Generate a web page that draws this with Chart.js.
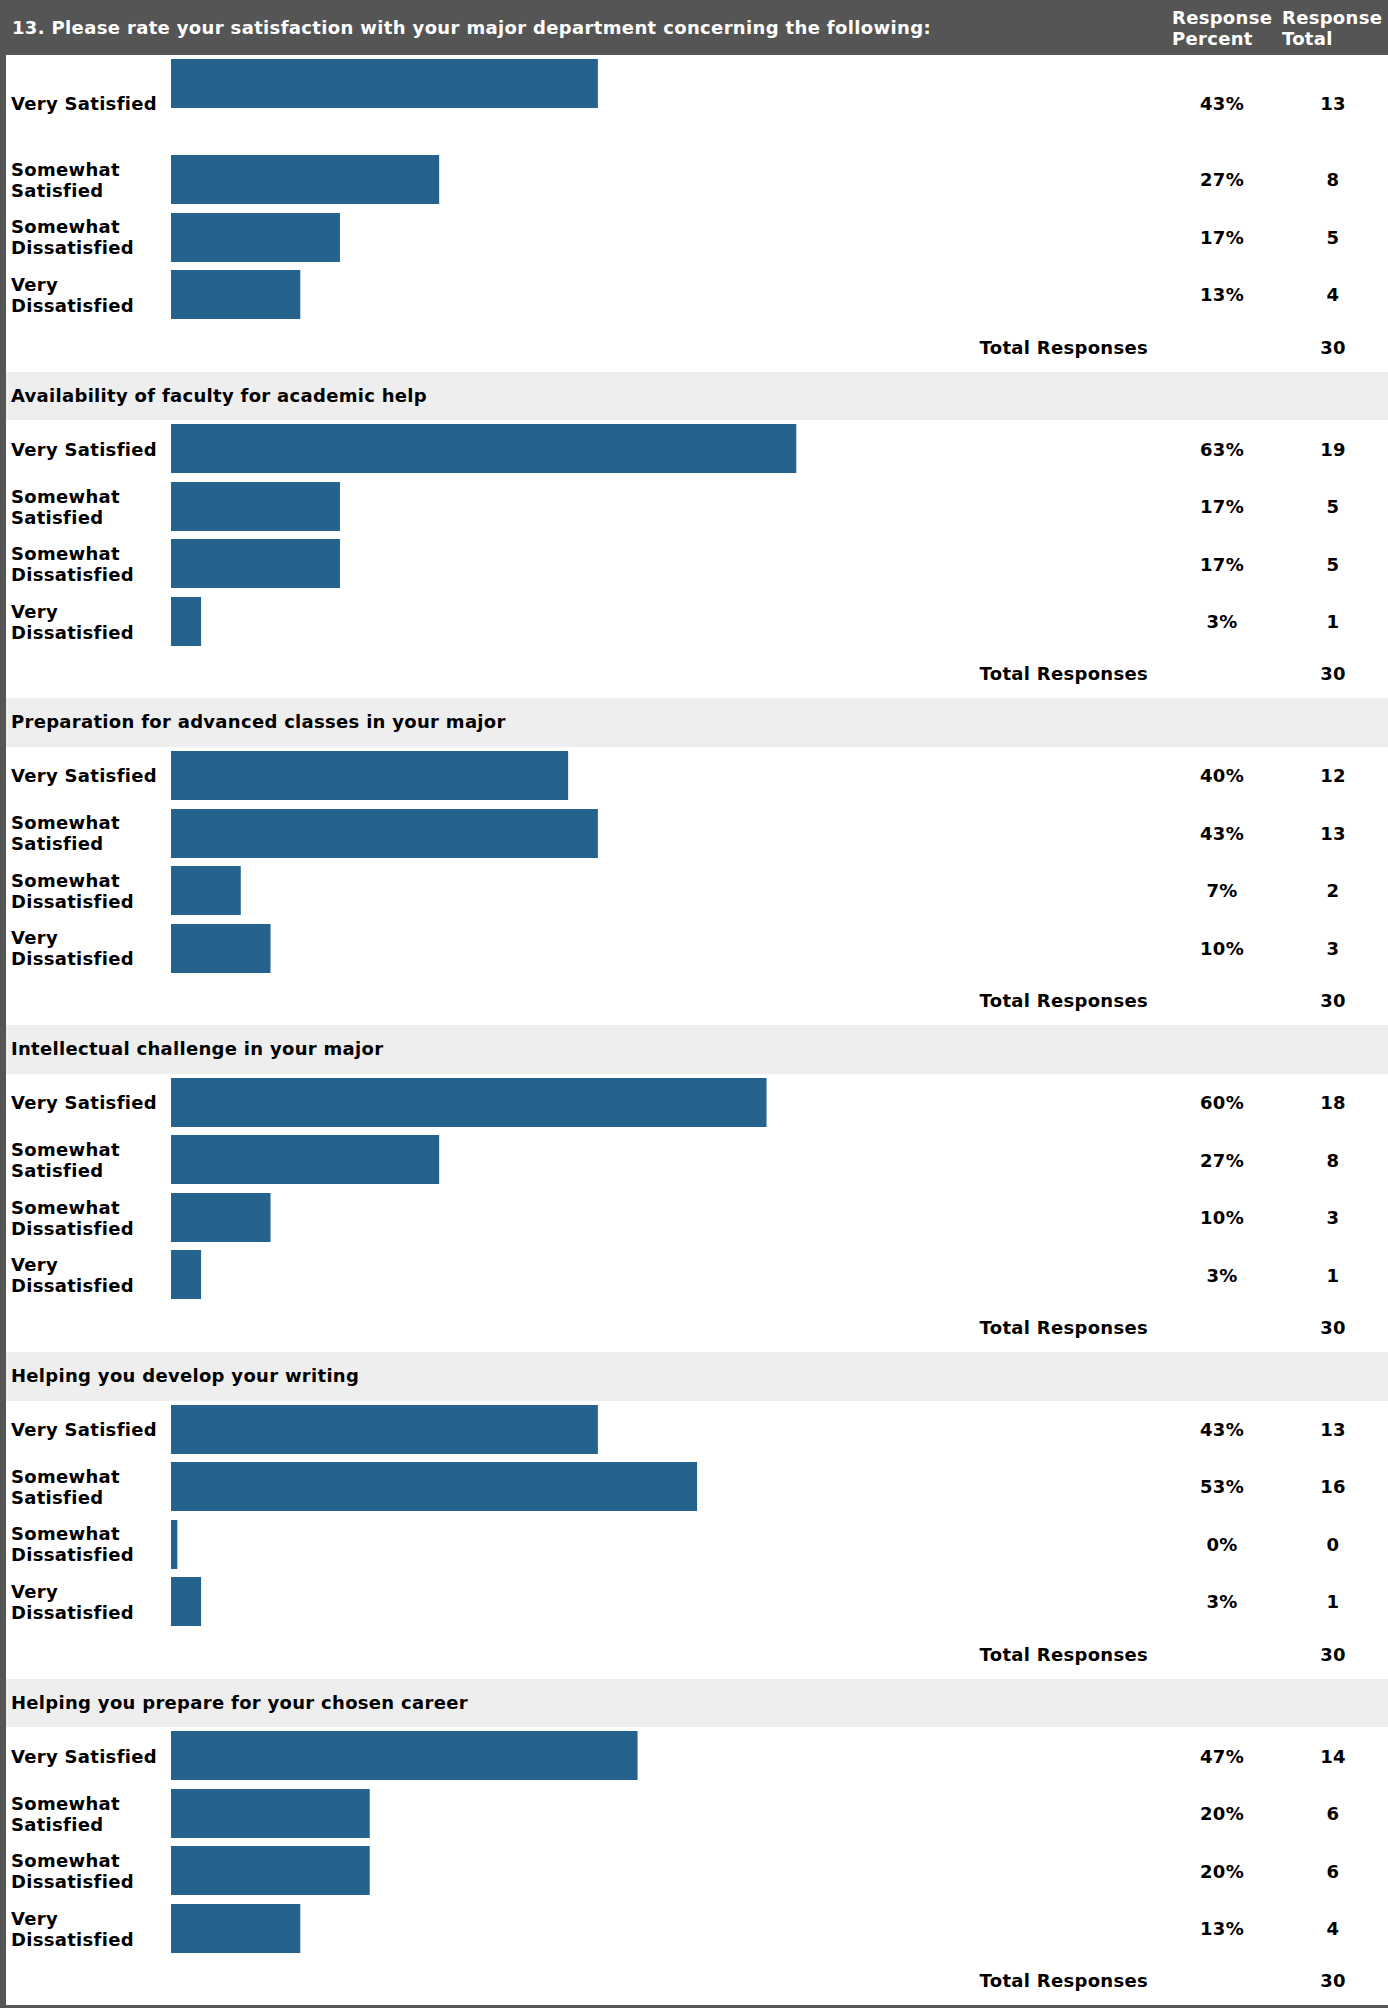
<!DOCTYPE html>
<html>
<head>
<meta charset="utf-8">
<title>Satisfaction with major department</title>
<script src="https://cdn.jsdelivr.net/npm/chart.js@4"></script>
<style>
  html, body { margin: 0; padding: 0; background: #fff; }
  body { font: bold 18px "DejaVu Sans", Verdana, sans-serif; color: #000; letter-spacing: 0.3px; }
  #sheet { width: 1382px; border-left: 6px solid #555; border-bottom: 3px solid #555; }
  .head { position: relative; height: 55px; background: #555; color: #fff; }
  .head .q { position: absolute; left: 6px; top: 0; height: 55px; line-height: 55px; letter-spacing: 0.35px; }
  .head .col { position: absolute; top: 7px; line-height: 21px; }
  .band { height: 48.75px; line-height: 48.75px; background: #eee; padding-left: 5px; }
  .row { position: relative; }
  .row .lbl { position: absolute; left: 5px; top: 0; bottom: 0; display: flex; align-items: center; line-height: 21px; }
  .row .bar { position: absolute; left: 165px; top: 4px; width: 992px; height: 49px; }
  .row .pct, .row .cnt { position: absolute; top: 0; bottom: 0; display: flex; align-items: center; justify-content: center; }
  .row .pct { left: 1166px; width: 100px; }
  .row .cnt { left: 1276px; width: 102px; }
  .tot { position: relative; height: 48px; }
  .tot .name { position: absolute; right: 240px; top: 0; line-height: 48px; }
  .tot .cnt { position: absolute; left: 1276px; width: 102px; top: 0; line-height: 48px; text-align: center; }
</style>
</head>
<body>
<div id="sheet">
  <div class="head">
    <div class="q">13. Please rate your satisfaction with your major department concerning the following:</div>
    <div class="col" style="left:1166px">Response<br>Percent</div>
    <div class="col" style="left:1276px">Response<br>Total</div>
  </div>
</div>
<script>
const groupTitles = [
  '',
  'Availability of faculty for academic help',
  'Preparation for advanced classes in your major',
  'Intellectual challenge in your major',
  'Helping you develop your writing',
  'Helping you prepare for your chosen career'
];
const ratings = [['Very Satisfied'], ['Somewhat', 'Satisfied'], ['Somewhat', 'Dissatisfied'], ['Very', 'Dissatisfied']];
const percents = [
  [43, 27, 17, 13],
  [63, 17, 17, 3],
  [40, 43, 7, 10],
  [60, 27, 10, 3],
  [43, 53, 0, 3],
  [47, 20, 20, 13]
];
const counts = [
  [13, 8, 5, 4],
  [19, 5, 5, 1],
  [12, 13, 2, 3],
  [18, 8, 3, 1],
  [13, 16, 0, 1],
  [14, 6, 6, 4]
];
const totals = [30, 30, 30, 30, 30, 30];

const barColor = '#25638e';
const sheet = document.getElementById('sheet');

function el(cls, html) {
  const d = document.createElement('div');
  d.className = cls;
  if (html !== undefined) d.innerHTML = html;
  return d;
}

// one small horizontal bar per answer row, 0-100 % across the bar cell
function drawBar(canvas, label, value) {
  return new Chart(canvas, {
    type: 'bar',
    data: {
      labels: [label],
      datasets: [{
        data: [value],
        backgroundColor: barColor,
        borderWidth: 0,
        barPercentage: 1,
        categoryPercentage: 1,
        minBarLength: 6
      }]
    },
    options: {
      indexAxis: 'y',
      responsive: false,
      animation: false,
      events: [],
      layout: { padding: 0 },
      scales: {
        x: { display: false, min: 0, max: 100 },
        y: { display: false }
      },
      plugins: {
        legend: { display: false },
        tooltip: { enabled: false }
      }
    }
  });
}

groupTitles.forEach(function(title, g) {
  if (g > 0) sheet.appendChild(el('band', title));
  ratings.forEach(function(r, i) {
    const row = el('row');
    row.style.height = (g === 0 && i === 0 ? 96 : 57.5) + 'px';
    row.appendChild(el('lbl', r.join('<br>')));
    const wrap = el('bar');
    const canvas = document.createElement('canvas');
    canvas.width = 992;
    canvas.height = 49;
    wrap.appendChild(canvas);
    row.appendChild(wrap);
    row.appendChild(el('pct', percents[g][i] + '%'));
    row.appendChild(el('cnt', counts[g][i]));
    sheet.appendChild(row);
    drawBar(canvas, r.join(' '), percents[g][i]);
  });
  const tot = el('tot');
  tot.appendChild(el('name', 'Total Responses'));
  tot.appendChild(el('cnt', totals[g]));
  sheet.appendChild(tot);
});
</script>
</body>
</html>
